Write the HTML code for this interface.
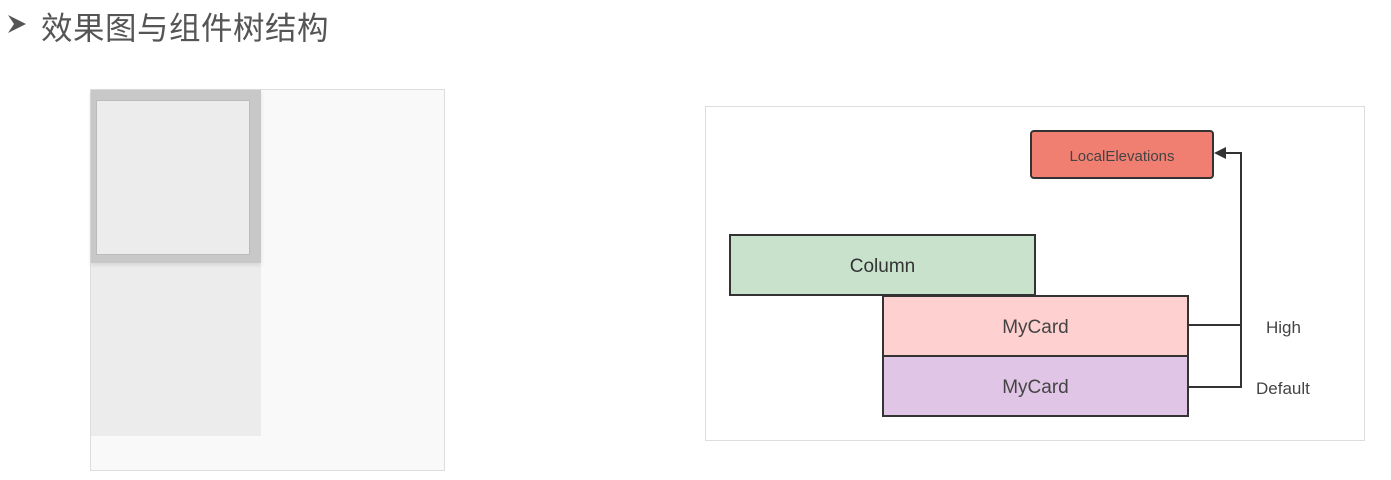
<!DOCTYPE html>
<html><head><meta charset="utf-8"><style>
body{margin:0;width:1391px;height:480px;background:#fff;position:relative;overflow:hidden;font-family:"Liberation Sans","Noto Sans CJK SC",sans-serif}
.a{position:absolute;box-sizing:border-box}
.t{display:flex;align-items:center;justify-content:center;color:#333;padding-top:3px}
</style></head><body>
<svg class="a" style="left:8px;top:14px" width="20" height="20"><polygon points="0,1 18,10 0,19 6,10" fill="#555"/></svg>
<div class="a" style="left:41px;top:3px;font-size:31.5px;color:#555;letter-spacing:0.5px">效果图与组件树结构</div>

<div class="a" style="left:90px;top:89px;width:355px;height:382px;background:#f9f9f9;border:1px solid #ddd"></div>
<div class="a" style="left:91px;top:90px;width:170px;height:346px;background:#ececec"></div>
<div class="a" style="left:91px;top:90px;width:170px;height:173px;background:#c8c8c8;box-shadow:0 2px 4px rgba(0,0,0,.1)"></div>
<div class="a" style="left:96px;top:100px;width:154px;height:155px;background:#ececec;border:1px solid #bbb"></div>

<div class="a" style="left:705px;top:106px;width:660px;height:335px;border:1px solid #ddd;background:#fff"></div>
<div class="a t" style="left:1030px;top:130px;width:184px;height:49px;background:#f07f72;border:2px solid #333;border-radius:4px;font-size:15px;color:#444">LocalElevations</div>
<div class="a t" style="left:729px;top:234px;width:307px;height:62px;background:#c8e2cc;border:2px solid #333;font-size:19px">Column</div>
<div class="a t" style="left:882px;top:295px;width:307px;height:62px;background:#ffd0d0;border:2px solid #333;font-size:19px;color:#444">MyCard</div>
<div class="a t" style="left:882px;top:355px;width:307px;height:62px;background:#e1c5e6;border:2px solid #333;font-size:19px;color:#444">MyCard</div>
<svg class="a" style="left:0;top:0" width="1391" height="480">
<path d="M1189 325H1241M1189 387H1241V153H1222" fill="none" stroke="#333" stroke-width="2"/>
<polygon points="1214,153 1226,147 1226,159" fill="#333"/>
</svg>
<div class="a" style="left:1266px;top:318px;font-size:17px;color:#444">High</div>
<div class="a" style="left:1256px;top:379px;font-size:17px;color:#444">Default</div>
</body></html>
